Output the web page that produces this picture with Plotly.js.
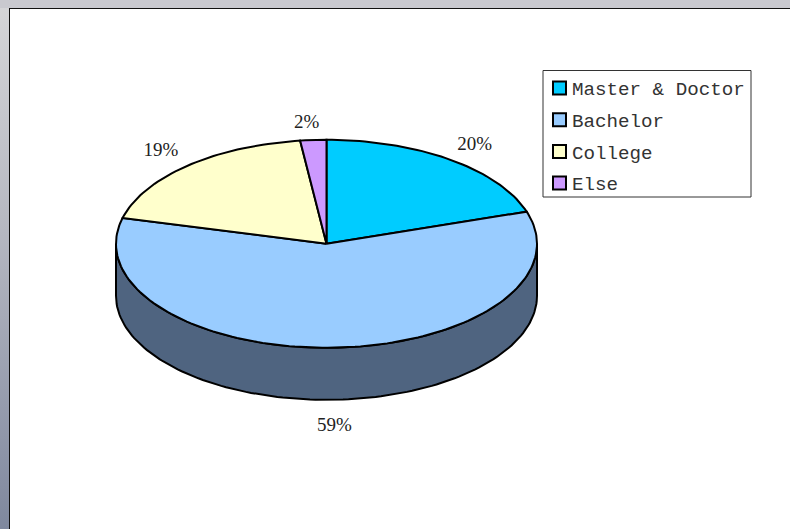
<!DOCTYPE html>
<html>
<head>
<meta charset="utf-8">
<script src="https://cdn.plot.ly/plotly-3.0.1.min.js"></script>
<style>
html,body{margin:0;padding:0;width:790px;height:529px;overflow:hidden;background:linear-gradient(180deg,#d6d6d8 0%,#b4b6c0 45%,#7f889e 100%);}
#top{position:absolute;left:0;top:0;width:790px;height:8px;background:#c9c9cf;}
#panel{position:absolute;left:9px;top:8px;width:781px;height:521px;background:#fff;border-left:1px solid #111;border-top:1px solid #111;box-sizing:border-box;}
#chart{position:absolute;left:0;top:0;width:790px;height:529px;}
</style>
</head>
<body>
<div id="top"></div><div id="panel"></div><div id="chart"></div>
<script>
const categories = ["Master & Doctor", "Bachelor", "College", "Else"];
const shares = [20, 59, 19, 2];
const sliceColors = ["#00CCFF", "#99CCFF", "#FFFFCC", "#CC99FF"];
const wallColor = "#4F6480";

// Projection of the tilted pie in the chart's pixel-like axis units
const cx = 326.5, cy = 243.8, rx = 210.5, ry = 104, depth = 52, labelK = 1.19;
const labelNudgeX = [1, 0, 0, -4], labelNudgeY = [1.5, 1.5, 0, 2.5];
const total = shares.reduce((a, b) => a + b, 0);
const rad = d => d * Math.PI / 180;
const px = a => cx + rx * Math.sin(rad(a));
const py = a => cy - ry * Math.cos(rad(a));
function arc(a0, a1) {
  const n = Math.max(2, Math.ceil((a1 - a0) / 1.5)), xs = [], ys = [];
  for (let i = 0; i <= n; i++) { const a = a0 + (a1 - a0) * i / n; xs.push(px(a)); ys.push(py(a)); }
  return [xs, ys];
}
const traces = [];
// side wall (front half of the rim, extruded down)
const [wx, wy] = arc(90, 270);
traces.push({
  x: wx.concat(wx.slice().reverse(), [wx[0]]),
  y: wy.concat(wy.slice().reverse().map(v => v + depth), [wy[0]]),
  mode: "lines", fill: "toself", fillcolor: wallColor,
  line: {color: "#000", width: 2}, hoverinfo: "skip", showlegend: false
});
// slices
let start = 0;
const lx = [], ly = [], lt = [];
shares.forEach((v, i) => {
  const sweep = v / total * 360, [ax, ay] = arc(start, start + sweep);
  traces.push({
    x: [cx].concat(ax, [cx]), y: [cy].concat(ay, [cy]),
    mode: "lines", fill: "toself", fillcolor: sliceColors[i],
    line: {color: "#000", width: 2}, name: categories[i],
    hoverinfo: "text", text: categories[i] + ": " + v + "%", hoveron: "fills", showlegend: false
  });
  const mid = start + sweep / 2, c = Math.cos(rad(mid));
  lx.push(cx + rx * labelK * Math.sin(rad(mid)) + labelNudgeX[i]);
  ly.push(cy - ry * labelK * c + (c < -0.5 ? depth + 5 : 0) + labelNudgeY[i]);
  lt.push(v + "%");
  start += sweep;
});
// percent labels
traces.push({
  x: lx, y: ly, text: lt, mode: "text", textposition: "middle center",
  textfont: {family: "Liberation Serif, serif", size: 19, color: "#222"},
  hoverinfo: "skip", showlegend: false
});
// legend key
const keyX = 559.5, textX = 572, keyY0 = 88, keyStep = 31.7;
traces.push({
  x: categories.map(() => keyX), y: categories.map((_, i) => keyY0 + i * keyStep),
  mode: "markers", marker: {symbol: "square", size: 13, color: sliceColors, line: {color: "#000", width: 2}},
  hoverinfo: "skip", showlegend: false
});
traces.push({
  x: categories.map(() => textX), y: categories.map((_, i) => keyY0 + 2.5 + i * keyStep),
  text: categories, mode: "text", textposition: "middle right",
  textfont: {family: "Liberation Mono, monospace", size: 19.2, color: "#333"},
  hoverinfo: "skip", showlegend: false
});
const layout = {
  width: 790, height: 529, margin: {l: 0, r: 0, t: 0, b: 0},
  paper_bgcolor: "rgba(0,0,0,0)", plot_bgcolor: "rgba(0,0,0,0)", showlegend: false,
  xaxis: {range: [0, 790], visible: false, fixedrange: true},
  yaxis: {range: [529, 0], visible: false, fixedrange: true},
  shapes: [{type: "rect", xref: "x", yref: "y", x0: 543, x1: 751, y0: 70.5, y1: 197, line: {color: "#333", width: 1}, fillcolor: "#fff", layer: "below"}]
};
Plotly.newPlot("chart", traces, layout, {displayModeBar: false, staticPlot: false});
</script>
</body>
</html>
